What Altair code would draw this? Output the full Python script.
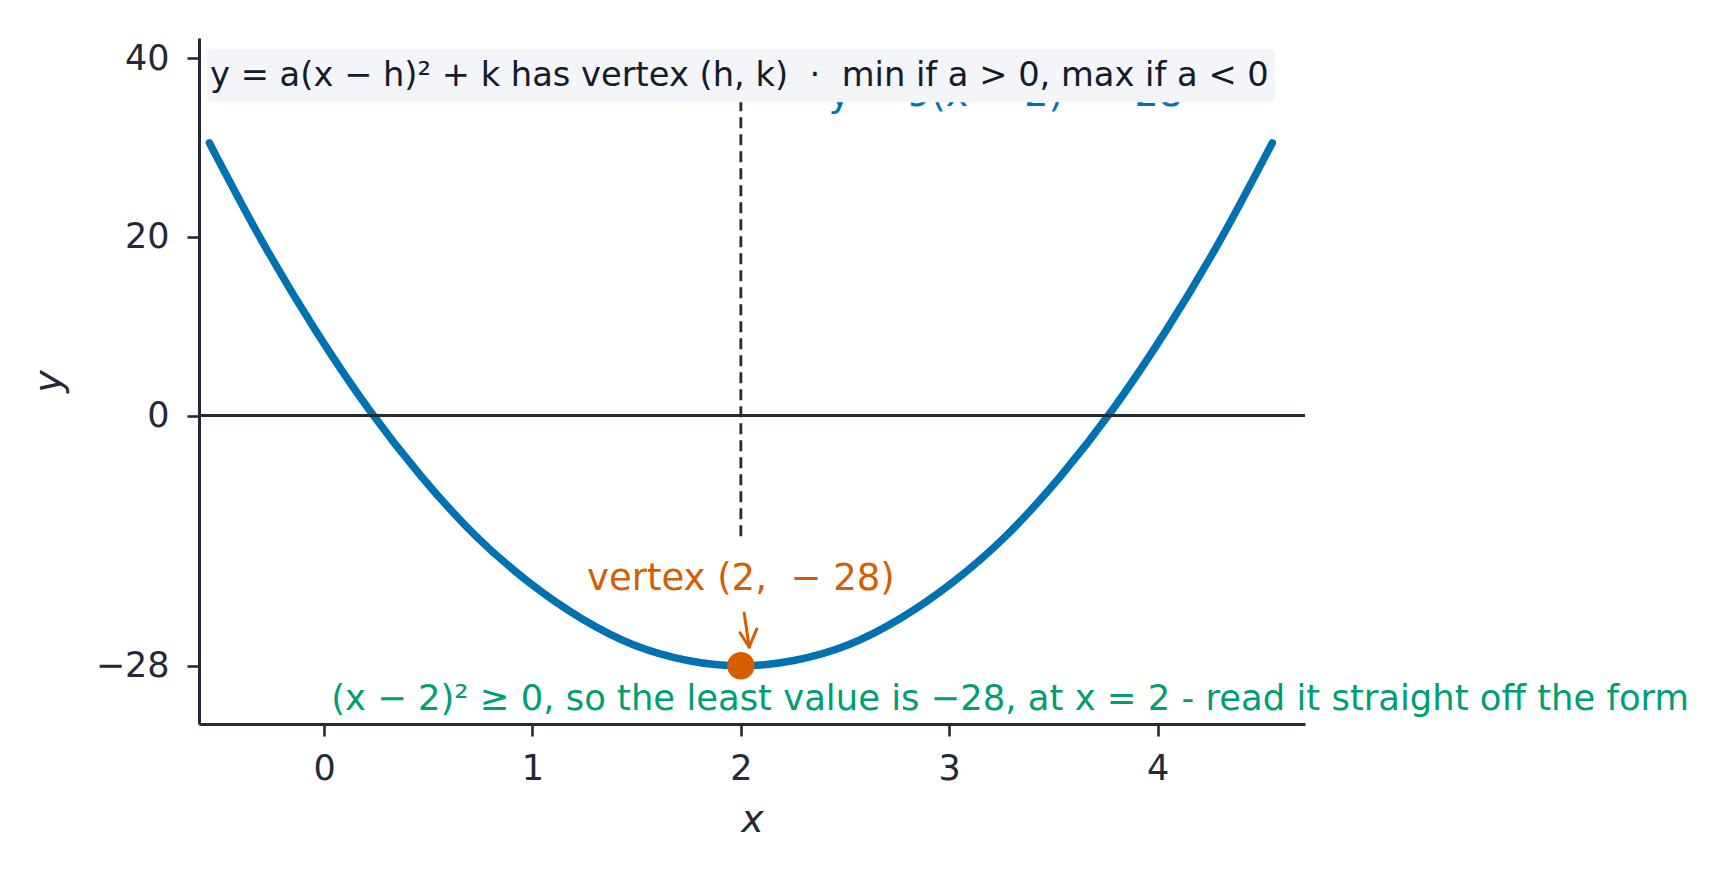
import altair as alt
import pandas as pd

# ---- data ----
curve_x = [-0.55, -0.295, -0.04, 0.215, 0.47, 0.725, 0.98, 1.235, 1.49, 1.745, 2.0,
           2.255, 2.51, 2.765, 3.02, 3.275, 3.53, 3.785, 4.04, 4.295, 4.55]
curve_y = [30.5, 19.4, 9.5, 0.7, -6.9, -13.4, -18.6, -22.7, -25.7, -27.4, -28.0,
           -27.4, -25.7, -22.7, -18.6, -13.4, -6.9, 0.7, 9.5, 19.4, 30.5]
x_ticks = [0, 1, 2, 3, 4]
y_ticks = [40, 20, 0, -28]
x_domain = [-0.6, 4.707]
y_domain = [-34.51, 42.24]

vertex_x = [2]
vertex_y = [-28]
axis_line_x = [2, 2]
axis_line_y = [-13.5, 38.0]

arrow_x = [2.016, 1.996, 2.076]
arrow_y = [-22.1, -24.3, -23.9]
arrow_x2 = [2.040, 2.040, 2.040]
arrow_y2 = [-25.9, -25.9, -25.9]

box_x = [-0.561]
box_x2 = [4.563]
box_y = [35.04]
box_y2 = [41.01]

NB = "\u00a0"
title_text = ["y = a(x − h)² + k has vertex (h, k) " + NB + "·" + NB + " min if a > 0, max if a < 0"]
title_pos = ([-0.547], [36.83])
curve_label = ["y = 9(x − 2)² − 28"]
curve_label_pos = ([2.42], [34.6])
vertex_label = ["vertex (2, " + NB + "− 28)"]
vertex_label_pos = ([2.0], [-19.5])
note_label = ["(x − 2)² ≥ 0, so the least value is −28, at x = 2 - read it straight off the form"]
note_pos = ([0.034], [-32.92])

BLUE = "#0072B2"
ORANGE = "#D55E00"
GREEN = "#009E73"
DARK = "#232a36"
FONT = "DejaVu Sans"

xs = alt.Scale(domain=x_domain, nice=False, zero=False)
ys = alt.Scale(domain=y_domain, nice=False, zero=False)

X = lambda f="x": alt.X(f + ":Q", scale=xs)
Y = lambda f="y": alt.Y(f + ":Q", scale=ys)

curve_df = pd.DataFrame({"x": curve_x, "y": curve_y})

curve = alt.Chart(curve_df).mark_line(
    color=BLUE, strokeWidth=7.5, strokeCap="round", interpolate="monotone"
).encode(
    x=alt.X("x:Q", scale=xs, axis=alt.Axis(
        values=x_ticks, title="x", titleFontStyle="italic", titleFontSize=38,
        titleFontWeight="normal", titleBaseline="alphabetic", titleY=107, titleColor=DARK,
        labelFontSize=35, labelPadding=15, tickSize=12, format="d")),
    y=alt.Y("y:Q", scale=ys, axis=alt.Axis(
        values=y_ticks, title="y", titleFontStyle="italic", titleFontSize=38,
        titleFontWeight="normal", titleBaseline="alphabetic", titleX=-139, titleColor=DARK,
        labelFontSize=35, labelPadding=18, tickSize=12, format="d")),
)

zero_line = alt.Chart(pd.DataFrame({"y": [0]})).mark_rule(
    color=DARK, strokeWidth=3
).encode(y=Y())

dash_df = pd.DataFrame({"x": [axis_line_x[0]], "y": [axis_line_y[0]], "y2": [axis_line_y[1]]})
dash = alt.Chart(dash_df).mark_rule(
    color=DARK, strokeWidth=2.8, strokeDash=[11, 6]
).encode(x=X(), y=Y(), y2="y2:Q")

curve_lbl = alt.Chart(pd.DataFrame({"x": curve_label_pos[0], "y": curve_label_pos[1], "t": curve_label})).mark_text(
    color=BLUE, font=FONT, fontSize=38, align="left", baseline="alphabetic"
).encode(x=X(), y=Y(), text="t:N")

box = alt.Chart(pd.DataFrame({"x": box_x, "x2": box_x2, "y": box_y, "y2": box_y2})).mark_rect(
    color="#f3f5f8", cornerRadius=5
).encode(x=X(), x2="x2:Q", y=Y(), y2="y2:Q")

title = alt.Chart(pd.DataFrame({"x": title_pos[0], "y": title_pos[1], "t": title_text})).mark_text(
    color="#141b2d", font=FONT, fontSize=33.7, align="left", baseline="alphabetic"
).encode(x=X(), y=Y(), text="t:N")

point = alt.Chart(pd.DataFrame({"x": vertex_x, "y": vertex_y})).mark_point(
    filled=True, shape="circle", size=755, color=ORANGE, opacity=1
).encode(x=X(), y=Y())

arrow = alt.Chart(pd.DataFrame({"x": arrow_x, "y": arrow_y, "x2": arrow_x2, "y2": arrow_y2})).mark_rule(
    color=ORANGE, strokeWidth=3, strokeCap="round"
).encode(x=X(), y=Y(), x2="x2:Q", y2="y2:Q")

vlabel = alt.Chart(pd.DataFrame({"x": vertex_label_pos[0], "y": vertex_label_pos[1], "t": vertex_label})).mark_text(
    color=ORANGE, font=FONT, fontSize=37, align="center", baseline="alphabetic"
).encode(x=X(), y=Y(), text="t:N")

note = alt.Chart(pd.DataFrame({"x": note_pos[0], "y": note_pos[1], "t": note_label})).mark_text(
    color=GREEN, font=FONT, fontSize=35.4, align="left", baseline="alphabetic"
).encode(x=X(), y=Y(), text="t:N")

chart = alt.layer(
    curve, zero_line, dash, curve_lbl, box, title, point, arrow, vlabel, note
).properties(
    width=1106, height=686,
    padding={"left": 191, "top": 30, "right": 400, "bottom": 140},
    autosize=alt.AutoSizeParams(type="none"),
    background="white",
).configure_view(stroke=None).configure_axis(
    grid=False, domainColor=DARK, domainWidth=3, tickColor=DARK, tickWidth=2.6,
    labelColor=DARK, labelFont=FONT, titleFont=FONT,
)

chart.save("out.html", embed_options={"renderer": "svg", "actions": False})
